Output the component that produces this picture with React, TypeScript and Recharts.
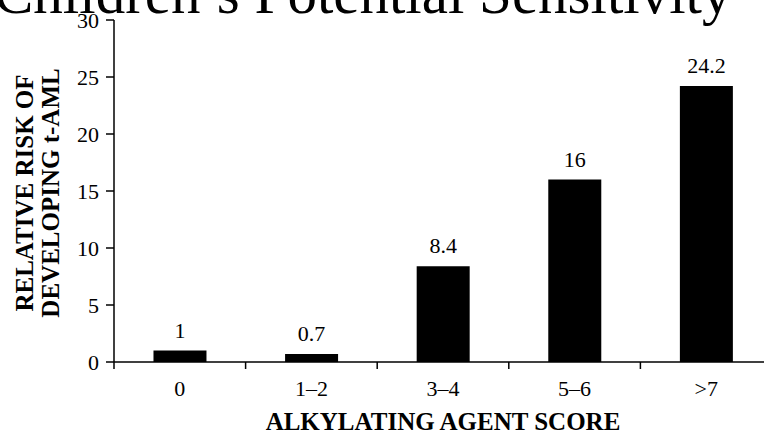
import React from "react";
import { BarChart, Bar, XAxis, YAxis, LabelList, Label } from "recharts";

const scores = ["0", "1–2", "3–4", "5–6", ">7"];
const relativeRisk = [1, 0.7, 8.4, 16, 24.2];
const riskTicks = [0, 5, 10, 15, 20, 25, 30];

const data = scores.map((score, i) => ({ score, risk: relativeRisk[i] }));

const serif = "Liberation Serif";
const tickStyle = { fill: "#000", fontSize: 22, fontFamily: serif };
const titleStyle = { fontFamily: serif, fontSize: 25, fontWeight: 700, fill: "#000" };

const X_TICK_SIZE = 8;
const X_TICK_MARGIN = 10;

function YTitle(props: any) {
  const { viewBox } = props;
  const cy = viewBox.y + viewBox.height / 2 + 2;
  return (
    <g>
      <text x={24} y={cy} transform={`rotate(-90 24 ${cy})`} textAnchor="middle" dominantBaseline="central" style={titleStyle}>
        RELATIVE RISK OF
      </text>
      <text x={50} y={cy} transform={`rotate(-90 50 ${cy})`} textAnchor="middle" dominantBaseline="central" style={titleStyle}>
        DEVELOPING t-AML
      </text>
    </g>
  );
}

// category label centred in its band, tick mark on the band's edges
function ScoreTick(props: any) {
  const { x, y, payload, index, visibleTicksCount } = props;
  const half = payload?.offset ?? 0;
  const axisY = y - X_TICK_SIZE - X_TICK_MARGIN;
  const last = index === (visibleTicksCount ?? scores.length) - 1;
  return (
    <g>
      <line x1={x - half} x2={x - half} y1={axisY} y2={axisY + 7} stroke="#000" strokeWidth={1.5} />
      {last && <line x1={x + half} x2={x + half} y1={axisY} y2={axisY + 7} stroke="#000" strokeWidth={1.5} />}
      <text x={x} y={y} dy="0.71em" textAnchor="middle" {...tickStyle}>
        {payload.value}
      </text>
    </g>
  );
}

export default function App() {
  return (
    <div style={{ position: "absolute", left: 0, top: 0, width: 764, height: 434, overflow: "hidden", background: "#fff" }}>
      <BarChart width={772} height={434} data={data} margin={{ top: 20, right: 0, left: 0, bottom: 12 }} barCategoryGap="30%">
        <XAxis
          dataKey="score"
          tick={ScoreTick}
          interval={0}
          tickLine={false}
          tickSize={X_TICK_SIZE}
          tickMargin={X_TICK_MARGIN}
          axisLine={{ stroke: "#000", strokeWidth: 1.5 }}
          height={60}
        >
          <Label value="ALKYLATING AGENT SCORE" position="insideBottom" offset={-8} style={titleStyle} />
        </XAxis>
        <YAxis
          domain={[0, 30]}
          ticks={riskTicks}
          interval={0}
          width={114}
          tick={tickStyle}
          tickSize={8}
          tickMargin={7}
          tickLine={{ stroke: "#000", strokeWidth: 1.5 }}
          axisLine={{ stroke: "#000", strokeWidth: 1.5 }}
          label={{ content: <YTitle /> }}
        />
        <Bar dataKey="risk" fill="#000" isAnimationActive={false}>
          <LabelList dataKey="risk" position="top" offset={13} style={tickStyle} />
        </Bar>
      </BarChart>
      <svg width={764} height={40} style={{ position: "absolute", left: 0, top: 0, pointerEvents: "none" }}>
        <text x={-6} y={13} style={{ fontFamily: serif, fontSize: 59, fill: "#000" }}>
          Children’s Potential Sensitivity
        </text>
      </svg>
    </div>
  );
}
